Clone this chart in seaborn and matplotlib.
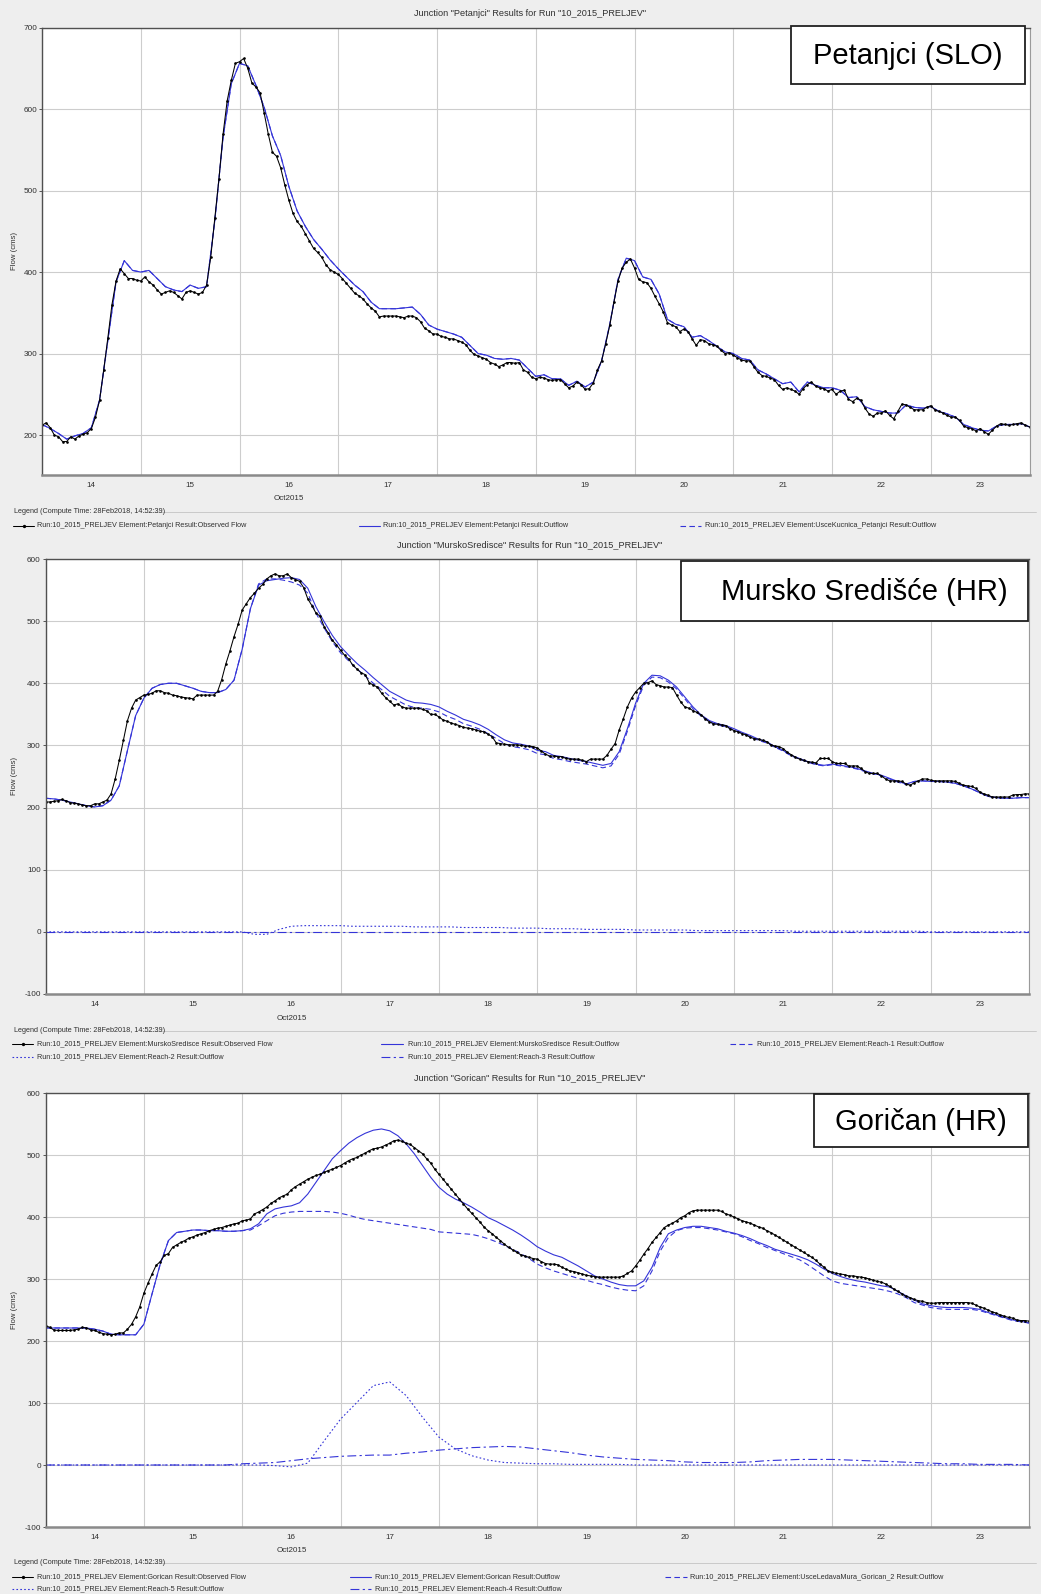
import matplotlib
matplotlib.use("Agg")
import matplotlib.pyplot as plt
from matplotlib.lines import Line2D
from matplotlib.patches import Rectangle
import numpy as np
import pandas as pd
import seaborn as sns

W, H = 1041, 1594

### time axis: hours after 14 Oct 2015 00:00
hours_1h = np.arange(0, 241, 1)
hours_2h = np.arange(0, 241, 2)
hours_3h = np.arange(0, 241, 3)
hours_4h = np.arange(0, 241, 4)
day_labels = ["14", "15", "16", "17", "18", "19", "20", "21", "22", "23"]

### Petanjci (SLO)
petanjci_obs = [
    212, 215, 209, 200, 198, 192, 192, 198, 195, 199,
    201, 203, 208, 222, 243, 280, 319, 360, 389, 404,
    398, 392, 392, 390, 389, 394, 388, 384, 378, 373,
    375, 377, 375, 371, 367, 375, 377, 375, 373, 375,
    384, 418, 466, 514, 569, 610, 635, 656, 658, 662,
    650, 632, 627, 620, 595, 569, 547, 542, 528, 507,
    488, 472, 462, 456, 447, 438, 429, 424, 418, 409,
    403, 400, 397, 392, 386, 380, 374, 371, 367, 361,
    356, 352, 345, 346, 346, 346, 346, 345, 344, 346,
    346, 344, 339, 331, 328, 324, 324, 321, 320, 318,
    318, 316, 314, 311, 304, 299, 297, 295, 293, 289,
    287, 284, 286, 289, 289, 288, 289, 280, 277, 271,
    269, 271, 270, 268, 267, 268, 268, 263, 258, 260,
    265, 262, 256, 257, 264, 280, 291, 312, 335, 363,
    389, 405, 412, 416, 405, 391, 388, 387, 380, 370,
    361, 351, 338, 335, 333, 327, 330, 327, 318, 310,
    317, 316, 312, 311, 309, 304, 300, 301, 298, 295,
    292, 291, 291, 284, 277, 273, 272, 270, 268, 261,
    256, 258, 256, 254, 250, 257, 262, 265, 260, 258,
    257, 254, 256, 250, 254, 255, 244, 241, 245, 243,
    233, 226, 223, 227, 227, 230, 224, 220, 229, 238,
    237, 234, 231, 231, 231, 234, 236, 231, 229, 227,
    224, 222, 222, 218, 211, 209, 208, 205, 208, 204,
    201, 206, 211, 214, 213, 212, 213, 214, 215, 212,
    210]
petanjci_out = [
    213, 208, 202, 195, 199, 202, 209, 243, 316, 388,
    414, 402, 400, 402, 392, 382, 378, 376, 384, 380,
    382, 463, 565, 631, 656, 653, 629, 602, 567, 543,
    505, 475, 456, 440, 428, 415, 404, 394, 384, 376,
    363, 355, 355, 355, 356, 357, 348, 335, 330, 327,
    324, 320, 310, 300, 298, 294, 293, 294, 292, 282,
    272, 274, 269, 269, 261, 266, 259, 265, 291, 336,
    391, 417, 414, 394, 391, 373, 342, 336, 333, 320,
    322, 316, 309, 302, 300, 294, 292, 280, 275, 269,
    263, 265, 253, 265, 261, 258, 258, 255, 246, 247,
    235, 231, 229, 227, 227, 237, 234, 233, 235, 229,
    226, 222, 213, 209, 206, 205, 211, 213, 213, 214,
    210]
# single upstream element -> same hydrograph as the junction outflow
petanjci_kucnica = list(petanjci_out)

### Mursko Središće (HR)
mursko_obs = [
    209, 209, 210, 211, 213, 211, 208, 207, 206, 204,
    203, 203, 206, 206, 209, 212, 222, 246, 276, 308,
    340, 360, 373, 377, 381, 382, 384, 388, 388, 385,
    384, 381, 380, 378, 377, 376, 375, 381, 381, 381,
    381, 381, 387, 406, 431, 452, 475, 495, 518, 528,
    538, 545, 553, 559, 568, 573, 576, 573, 573, 576,
    570, 567, 564, 554, 536, 525, 513, 508, 491, 481,
    469, 462, 453, 445, 439, 429, 423, 417, 414, 401,
    397, 394, 384, 377, 371, 365, 367, 362, 360, 360,
    360, 360, 358, 356, 350, 350, 346, 341, 339, 336,
    334, 332, 329, 328, 327, 325, 323, 322, 318, 314,
    304, 303, 302, 301, 301, 301, 300, 299, 299, 298,
    296, 291, 286, 283, 283, 282, 282, 279, 278, 278,
    278, 276, 274, 278, 278, 278, 278, 284, 294, 303,
    325, 343, 362, 376, 386, 393, 400, 401, 404, 398,
    396, 394, 394, 393, 381, 370, 362, 360, 356, 353,
    349, 343, 338, 335, 334, 333, 332, 327, 324, 322,
    319, 317, 313, 311, 310, 308, 306, 301, 299, 298,
    295, 289, 285, 281, 278, 276, 274, 273, 272, 279,
    279, 279, 274, 271, 271, 271, 267, 267, 267, 263,
    258, 255, 255, 255, 251, 246, 243, 243, 243, 242,
    238, 236, 240, 243, 246, 246, 244, 243, 243, 243,
    243, 243, 242, 239, 236, 235, 234, 231, 225, 222,
    220, 217, 217, 217, 217, 217, 220, 221, 221, 222,
    222]
mursko_out = [
    215, 214, 212, 209, 206, 203, 201, 203, 212, 235,
    292, 348, 376, 392, 398, 400, 400, 396, 392, 387,
    385, 385, 390, 405, 455, 520, 558, 565, 567, 569,
    570, 567, 553, 523, 499, 477, 459, 445, 432, 421,
    409, 398, 387, 380, 373, 369, 368, 366, 362, 355,
    349, 342, 338, 333, 326, 317, 309, 304, 302, 299,
    292, 290, 284, 282, 279, 276, 274, 271, 268, 271,
    290, 327, 368, 400, 413, 412, 405, 394, 378, 362,
    349, 340, 335, 332, 327, 321, 316, 310, 306, 298,
    292, 284, 279, 274, 270, 268, 270, 268, 266, 263,
    259, 255, 252, 247, 242, 238, 242, 243, 242, 242,
    241, 239, 235, 230, 224, 218, 216, 215, 215, 216,
    216]
mursko_reach1 = [
    215, 214, 212, 209, 206, 203, 201, 203, 212, 235,
    292, 348, 376, 392, 398, 400, 400, 396, 392, 387,
    385, 385, 390, 405, 455, 520, 560, 568, 568, 566,
    563, 558, 545, 513, 489, 467, 449, 436, 423, 412,
    400, 390, 379, 372, 365, 361, 360, 358, 354, 347,
    342, 335, 331, 326, 319, 311, 303, 298, 296, 293,
    287, 285, 279, 277, 274, 272, 270, 267, 264, 267,
    286, 323, 364, 397, 410, 409, 402, 391, 375, 359,
    347, 338, 333, 330, 325, 319, 314, 308, 304, 297,
    291, 283, 278, 273, 269, 267, 269, 267, 265, 262,
    258, 254, 251, 246, 241, 237, 242, 243, 242, 242,
    241, 239, 235, 230, 224, 218, 216, 215, 215, 216,
    216]
mursko_reach2 = [
    0, 0, 0, 0, 0, 0, 0, 0, 0, 0, 0, 0, 0, 0, 0, 0,
    0, -4, -4, 4, 9, 10, 10, 10, 10, 9,
    9, 9, 9, 9, 8, 8, 8, 8, 7, 7,
    7, 7, 6, 6, 6, 5, 5, 5, 4, 4,
    4, 4, 3, 3, 3, 3, 3, 2, 2, 2,
    2, 2, 2, 2, 2, 1, 1, 1, 1, 1,
    1, 1, 1, 1, 1, 1,
    0, 0, 0, 0, 0, 0, 0, 0, 0]
mursko_reach3_hours = [0, 240]
mursko_reach3 = [0, 0]

### Goričan (HR)
gorican_obs = [
    225, 222, 218, 217, 217, 217, 217, 218, 219, 222,
    221, 218, 217, 214, 212, 211, 210, 211, 213, 213,
    219, 227, 239, 255, 277, 293, 308, 322, 328, 338,
    341, 351, 355, 359, 362, 366, 368, 371, 373, 375,
    378, 380, 382, 383, 385, 387, 389, 390, 394, 395,
    397, 405, 408, 412, 416, 422, 426, 431, 434, 437,
    444, 449, 453, 457, 461, 464, 467, 469, 472, 475,
    477, 480, 483, 487, 491, 494, 496, 500, 503, 507,
    510, 511, 513, 516, 519, 523, 524, 522, 519, 517,
    512, 507, 502, 494, 487, 477, 469, 461, 453, 445,
    437, 429, 421, 413, 406, 399, 392, 384, 378, 373,
    367, 362, 356, 351, 347, 343, 339, 337, 335, 333,
    332, 328, 325, 324, 324, 323, 319, 316, 313, 312,
    310, 308, 306, 305, 304, 303, 303, 303, 303, 303,
    303, 305, 309, 313, 321, 330, 340, 349, 359, 367,
    375, 383, 387, 390, 394, 399, 402, 407, 410, 411,
    411, 411, 411, 411, 411, 409, 405, 403, 400, 397,
    394, 392, 390, 387, 384, 382, 378, 375, 371, 367,
    363, 359, 355, 351, 347, 343, 339, 335, 330, 324,
    319, 313, 311, 309, 308, 307, 305, 305, 304, 303,
    302, 300, 298, 296, 295, 292, 288, 284, 280, 276,
    272, 270, 267, 265, 264, 262, 261, 261, 262, 262,
    262, 262, 262, 262, 262, 262, 261, 258, 255, 253,
    250, 247, 245, 242, 240, 238, 237, 234, 233, 233,
    232]
gorican_out = [
    221, 221, 221, 221, 221, 221, 219, 216, 211, 210,
    210, 210, 227, 276, 324, 362, 375, 377, 379, 379,
    378, 378, 377, 377, 378, 381, 389, 405, 413, 416,
    418, 423, 437, 456, 475, 494, 507, 519, 528, 535,
    540, 542, 539, 531, 518, 502, 483, 464, 448, 437,
    429, 423, 416, 408, 399, 393, 386, 379, 371, 362,
    352, 345, 339, 335, 328, 321, 313, 305, 300, 295,
    291, 289, 289, 297, 319, 351, 373, 379, 383, 385,
    385, 383, 381, 377, 374, 370, 365, 359, 354, 348,
    344, 340, 336, 331, 324, 316, 309, 304, 300, 297,
    295, 292, 289, 287, 280, 273, 266, 260, 257, 255,
    254, 254, 254, 253, 251, 246, 242, 238, 234, 232,
    229]
gorican_ledava = [
    221, 221, 221, 221, 221, 221, 219, 216, 211, 210,
    210, 210, 227, 276, 324, 362, 375, 377, 379, 379,
    378, 378, 377, 377, 378, 379, 386, 394, 402, 406,
    408, 409, 409, 409, 409, 408, 406, 403, 399, 396,
    394, 392, 390, 388, 386, 384, 382, 380, 376, 375,
    374, 373, 372, 369, 365, 360, 354, 348, 341, 333,
    324, 318, 313, 309, 305, 301, 298, 294, 291, 287,
    284, 282, 281, 289, 313, 345, 367, 378, 382, 383,
    383, 381, 379, 376, 373, 368, 362, 357, 351, 346,
    341, 336, 331, 323, 314, 305, 297, 293, 291, 289,
    287, 285, 283, 280, 276, 270, 262, 258, 254, 252,
    251, 251, 251, 251, 249, 245, 241, 237, 233, 231,
    229]
gorican_reach5 = [
    0, 0, 0, 0, 0, 0, 0, 0, 0, 0, 0, 0, 0, 0,
    -1, -3, 3, 39, 74, 101, 128, 134, 112, 77,
    45, 26, 15, 8, 4, 3, 2, 2, 1, 1, 1, 1,
    0, 0, 0, 0, 0, 0, 0, 0, 0, 0, 0, 0, 0,
    0, 0, 0, 0, 0, 0, 0, 0, 0, 0, 0, 0]
gorican_reach4 = [
    0, 0, 0, 0, 0, 0, 0, 0, 0, 0, 0, 0,
    2, 3, 4, 7, 10, 12, 14, 15, 16, 16,
    19, 21, 24, 26, 28, 29, 30, 29, 26, 23,
    20, 16, 13, 11, 9, 8, 7, 5, 4, 4,
    4, 5, 7, 8, 9, 9, 9, 8, 7, 6,
    5, 4, 3, 2, 2, 1, 1, 1, 0]

### styles
BLUE = "#3434d8"
GRAY_BG = "#eeeeee"
TXT = "#303030"
FONT = ["Liberation Sans", "DejaVu Sans"]

obs_style = dict(color="black", lw=0.75, marker="o", markersize=1.9,
                 markeredgecolor="black", markeredgewidth=0)
solid_style = dict(color=BLUE, lw=0.8, linestyle="-")
dashed_style = dict(color=BLUE, lw=0.8, linestyle=(0, (5, 3)))
dotted_style = dict(color=BLUE, lw=0.8, linestyle=(0, (1.5, 2)))
dashdot_style = dict(color=BLUE, lw=0.8, linestyle=(0, (8, 3, 2, 3)))

sns.set_style("white")
plt.rcParams["font.family"] = FONT

fig = plt.figure(figsize=(W / 100, H / 100), dpi=100, facecolor=GRAY_BG)


def fx(x):
    return x / W


def fy(y):
    return 1 - y / H


def add_axes_px(left, top, right, bottom):
    return fig.add_axes([fx(left), fy(bottom), (right - left) / W, (bottom - top) / H])


def draw_series(ax, hours, values, style):
    df = pd.DataFrame({"day": np.asarray(hours) / 24.0, "flow": values})
    sns.lineplot(data=df, x="day", y="flow", ax=ax, errorbar=None, **style)


def style_axes(ax, ylim, yticks):
    ax.set_facecolor("white")
    ax.set_xlim(0, 10)
    ax.set_ylim(*ylim)
    ax.set_xticks(range(11))
    ax.set_xticklabels([])
    ax.set_xticks(np.arange(10) + 0.5, minor=True)
    ax.set_xticklabels(day_labels, minor=True)
    ax.set_yticks(yticks)
    ax.set_yticklabels([str(v) for v in yticks])
    ax.tick_params(axis="x", which="major", length=6, width=0.8, color="#555555", direction="out")
    ax.tick_params(axis="x", which="minor", length=0, pad=5, labelsize=5.8, labelcolor=TXT)
    ax.tick_params(axis="y", length=2.2, width=0.7, color="#555555", pad=1.2,
                   labelsize=5.9, labelcolor=TXT, left=True)
    ax.grid(True, which="major", color="#cdcdcd", lw=0.8)
    ax.set_axisbelow(True)
    ax.set_xlabel("")
    ax.set_ylabel("")
    for side in ["left", "top"]:
        ax.spines[side].set_color("#505050")
        ax.spines[side].set_linewidth(1.0)
    ax.spines["right"].set_color("#9a9a9a")
    ax.spines["right"].set_linewidth(0.8)
    ax.spines["bottom"].set_color("#8a8a8a")
    ax.spines["bottom"].set_linewidth(1.8)


def legend_block(header_y, rows):
    fig.text(fx(14), fy(header_y), "Legend (Compute Time: 28Feb2018, 14:52:39)",
             fontsize=5.2, color=TXT, va="center", ha="left")
    fig.add_artist(Line2D([fx(143), fx(1036)], [fy(header_y), fy(header_y)],
                          transform=fig.transFigure, color="#c4c4c4", lw=0.6))
    for row_y, entries in rows:
        for x0, x1, xt, style, label in entries:
            kw = dict(style)
            if "marker" in kw:
                kw["markevery"] = [1]
                kw["markersize"] = 2.4
                xs = [fx(x0), fx((x0 + x1) / 2), fx(x1)]
                ys = [fy(row_y)] * 3
            else:
                xs = [fx(x0), fx(x1)]
                ys = [fy(row_y)] * 2
            fig.add_artist(Line2D(xs, ys, transform=fig.transFigure, **kw))
            fig.text(fx(xt), fy(row_y), label, fontsize=5.2, color=TXT,
                     va="center", ha="left")


def name_box(x0, y0, x1, y1, text, shift=0):
    fig.add_artist(Rectangle((fx(x0), fy(y1)), (x1 - x0) / W, (y1 - y0) / H,
                             transform=fig.transFigure, facecolor="white",
                             edgecolor="#202020", lw=1.3, zorder=5))
    fig.text(fx((x0 + x1) / 2 + shift), fy((y0 + y1) / 2 + 1), text, fontsize=21,
             color="black", ha="center", va="center", zorder=6)


run = "Run:10_2015_PRELJEV Element:"

### panel 1: Petanjci
ax1 = add_axes_px(42, 27.5, 1029.5, 475)
draw_series(ax1, hours_2h, petanjci_kucnica, dashed_style)
draw_series(ax1, hours_2h, petanjci_out, solid_style)
draw_series(ax1, hours_1h, petanjci_obs, obs_style)
style_axes(ax1, (151, 700), list(range(200, 701, 100)))
fig.text(fx(530), fy(13), 'Junction "Petanjci" Results for Run "10_2015_PRELJEV"',
         fontsize=6.6, color=TXT, ha="center", va="center")
fig.text(fx(14), fy(251), "Flow (cms)", rotation=90, fontsize=5.6, color=TXT,
         ha="center", va="center")
fig.text(fx(42 + 2.5 * 98.75), fy(498), "Oct2015", fontsize=5.8, color=TXT,
         ha="center", va="center")
legend_block(512, [
    (525.5, [(13, 34, 37, obs_style, run + "Petanjci Result:Observed Flow"),
             (359, 380, 383, solid_style, run + "Petanjci Result:Outflow"),
             (680, 701, 705, dashed_style, run + "UsceKucnica_Petanjci Result:Outflow")]),
])
name_box(791, 25.7, 1025, 84, "Petanjci (SLO)")

### panel 2: Mursko Središće
ax2 = add_axes_px(45.5, 559, 1029, 994)
draw_series(ax2, mursko_reach3_hours, mursko_reach3, dashdot_style)
draw_series(ax2, hours_3h, mursko_reach2, dotted_style)
draw_series(ax2, hours_2h, mursko_reach1, dashed_style)
draw_series(ax2, hours_2h, mursko_out, solid_style)
draw_series(ax2, hours_1h, mursko_obs, obs_style)
style_axes(ax2, (-100, 600), list(range(-100, 601, 100)))
fig.text(fx(530), fy(545), 'Junction "MurskoSredisce" Results for Run "10_2015_PRELJEV"',
         fontsize=6.6, color=TXT, ha="center", va="center")
fig.text(fx(14), fy(776), "Flow (cms)", rotation=90, fontsize=5.6, color=TXT,
         ha="center", va="center")
fig.text(fx(45.5 + 2.5 * 98.35), fy(1018), "Oct2015", fontsize=5.8, color=TXT,
         ha="center", va="center")
legend_block(1031, [
    (1044, [(12, 33, 37, obs_style, run + "MurskoSredisce Result:Observed Flow"),
            (381, 403, 408, solid_style, run + "MurskoSredisce Result:Outflow"),
            (730, 752, 757, dashed_style, run + "Reach-1 Result:Outflow")]),
    (1057, [(12, 33, 37, dotted_style, run + "Reach-2 Result:Outflow"),
            (381, 403, 408, dashdot_style, run + "Reach-3 Result:Outflow")]),
])
name_box(681, 561, 1028, 621, "Mursko Središće (HR)", shift=10)

### panel 3: Goričan
ax3 = add_axes_px(45.5, 1093, 1029, 1527)
draw_series(ax3, hours_4h, gorican_reach4, dashdot_style)
draw_series(ax3, hours_4h, gorican_reach5, dotted_style)
draw_series(ax3, hours_2h, gorican_ledava, dashed_style)
draw_series(ax3, hours_2h, gorican_out, solid_style)
draw_series(ax3, hours_1h, gorican_obs, obs_style)
style_axes(ax3, (-100, 600), list(range(-100, 601, 100)))
fig.text(fx(530), fy(1078), 'Junction "Gorican" Results for Run "10_2015_PRELJEV"',
         fontsize=6.6, color=TXT, ha="center", va="center")
fig.text(fx(14), fy(1310), "Flow (cms)", rotation=90, fontsize=5.6, color=TXT,
         ha="center", va="center")
fig.text(fx(45.5 + 2.5 * 98.35), fy(1550), "Oct2015", fontsize=5.8, color=TXT,
         ha="center", va="center")
legend_block(1563, [
    (1577, [(12, 33, 37, obs_style, run + "Gorican Result:Observed Flow"),
            (350, 371, 375, solid_style, run + "Gorican Result:Outflow"),
            (665, 687, 690, dashed_style, run + "UsceLedavaMura_Gorican_2 Result:Outflow")]),
    (1589, [(12, 33, 37, dotted_style, run + "Reach-5 Result:Outflow"),
            (350, 371, 375, dashdot_style, run + "Reach-4 Result:Outflow")]),
])
name_box(814, 1094, 1028, 1147, "Goričan (HR)")

fig.savefig("out.png", dpi=100, facecolor=GRAY_BG)
